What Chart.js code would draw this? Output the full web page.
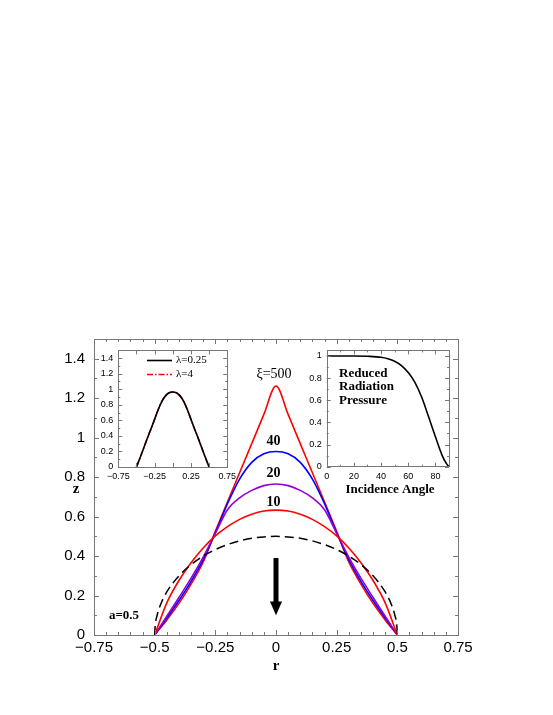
<!DOCTYPE html>
<html>
<head>
<meta charset="utf-8">
<script src="https://cdn.jsdelivr.net/npm/chart.js@4"></script>
<style>
  body { margin: 0; background: #fff; }
  #wrap { position: relative; width: 553px; height: 715px; }
  canvas { position: absolute; }
</style>
</head>
<body>
<div id="wrap">
  <canvas id="mainChart" width="553" height="715" style="left:0;top:0"></canvas>
  <canvas id="lambdaChart" width="150" height="145" style="left:90px;top:340px"></canvas>
  <canvas id="angleChart" width="155" height="160" style="left:300px;top:340px"></canvas>
</div>
<script>
// Main plot: surface profiles z(r) for several xi, plus the initial hemisphere
const rGrid = [-0.5, -0.45, -0.4, -0.35, -0.3, -0.25, -0.2, -0.15, -0.1, -0.05, 0,
  0.05, 0.1, 0.15, 0.2, 0.25, 0.3, 0.35, 0.4, 0.45, 0.5];
const zXi10 = [0, 0.163, 0.276, 0.366, 0.441, 0.502, 0.549, 0.586, 0.612, 0.628, 0.633,
  0.628, 0.612, 0.586, 0.549, 0.502, 0.441, 0.366, 0.276, 0.163, 0];
const zXi20 = [0, 0.095, 0.19, 0.288, 0.395, 0.515, 0.635, 0.695, 0.733, 0.757, 0.765,
  0.757, 0.733, 0.695, 0.635, 0.515, 0.395, 0.288, 0.19, 0.095, 0];
const zXi40 = [0, 0.086, 0.175, 0.272, 0.382, 0.518, 0.665, 0.79, 0.875, 0.918, 0.93,
  0.918, 0.875, 0.79, 0.665, 0.518, 0.382, 0.272, 0.175, 0.086, 0];
const zXi500 = [0, 0.076, 0.16, 0.258, 0.37, 0.525, 0.674, 0.822, 0.97, 1.118, 1.262,
  1.118, 0.97, 0.822, 0.674, 0.525, 0.37, 0.258, 0.16, 0.076, 0];

const rCircle = [-0.5, -0.498, -0.49, -0.475, -0.45, -0.4, -0.35, -0.3, -0.25, -0.2, -0.15, -0.1, -0.05, 0,
  0.05, 0.1, 0.15, 0.2, 0.25, 0.3, 0.35, 0.4, 0.45, 0.475, 0.49, 0.498, 0.5];
const zCircle = [0, 0.045, 0.099, 0.156, 0.218, 0.3, 0.357, 0.4, 0.433, 0.458, 0.477, 0.49, 0.497, 0.5,
  0.497, 0.49, 0.477, 0.458, 0.433, 0.4, 0.357, 0.3, 0.218, 0.156, 0.099, 0.045, 0];

const mainXTicks = [-0.75, -0.5, -0.25, 0, 0.25, 0.5, 0.75];
const mainXLabels = ["\u22120.75", "\u22120.5", "\u22120.25", "0", "0.25", "0.5", "0.75"];
const mainYTicks = [0, 0.2, 0.4, 0.6, 0.8, 1, 1.2, 1.4];
const mainYLabels = ["0", "0.2", "0.4", "0.6", "0.8", "1", "1.2", "1.4"];

// Left inset: profiles for two lambda values
const rInset = [-0.5, -0.45, -0.4, -0.35, -0.3, -0.25, -0.2, -0.15, -0.1, -0.05, 0,
  0.05, 0.1, 0.15, 0.2, 0.25, 0.3, 0.35, 0.4, 0.45, 0.5];
const zLambda025 = [0, 0.12, 0.245, 0.37, 0.49, 0.615, 0.74, 0.845, 0.915, 0.955, 0.965,
  0.955, 0.915, 0.845, 0.74, 0.615, 0.49, 0.37, 0.245, 0.12, 0];
const zLambda4 = [0, 0.12, 0.245, 0.37, 0.49, 0.615, 0.74, 0.845, 0.915, 0.955, 0.965,
  0.955, 0.915, 0.845, 0.74, 0.615, 0.49, 0.37, 0.245, 0.12, 0];
const insetXTicks = [-0.75, -0.25, 0.25, 0.75];
const insetXLabels = ["\u22120.75", "\u22120.25", "0.25", "0.75"];
const insetYTicks = [0, 0.2, 0.4, 0.6, 0.8, 1, 1.2, 1.4];
const insetYLabels = ["0", "0.2", "0.4", "0.6", "0.8", "1", "1.2", "1.4"];

// Right inset: reduced radiation pressure vs incidence angle
const incAngle = [0, 10, 20, 30, 40, 45, 50, 55, 60, 65, 70, 75, 80, 85, 88, 90];
const pressure = [1, 1, 1, 0.997, 0.988, 0.975, 0.952, 0.912, 0.85, 0.76, 0.625, 0.45, 0.27, 0.1, 0.03, 0];
const angleXTicks = [0, 20, 40, 60, 80];
const angleXLabels = ["0", "20", "40", "60", "80"];
const angleYTicks = [0, 0.2, 0.4, 0.6, 0.8, 1];
const angleYLabels = ["0", "0.2", "0.4", "0.6", "0.8", "1"];

const SANS = "'Liberation Sans', Arial, sans-serif";
const SERIF = "'Liberation Serif', 'Times New Roman', serif";

function pts(xs, ys) {
  return xs.map((x, i) => ({ x: x, y: ys[i] }));
}

// Box frame with inward tick marks on all four sides
const frameTicks = {
  id: "frameTicks",
  afterDatasetsDraw(chart, args, o) {
    const { ctx, chartArea: a } = chart;
    const sx = chart.scales.x, sy = chart.scales.y;
    ctx.save();
    ctx.strokeStyle = o.color;
    ctx.lineWidth = 1;
    ctx.strokeRect(Math.round(a.left) + 0.5, Math.round(a.top) + 0.5,
      Math.round(a.width), Math.round(a.height));
    ctx.beginPath();
    const isMajor = (v, m) => Math.abs(v / m - Math.round(v / m)) < 1e-6;
    const nx = Math.round((sx.max - sx.min) / o.xMinor);
    for (let i = 0; i <= nx; i++) {
      const v = sx.min + i * o.xMinor;
      const len = isMajor(v, o.xMajor) ? o.major : o.minor;
      const px = Math.round(sx.getPixelForValue(v)) + 0.5;
      ctx.moveTo(px, a.bottom); ctx.lineTo(px, a.bottom - len);
      ctx.moveTo(px, a.top); ctx.lineTo(px, a.top + len);
    }
    const ny = Math.floor((sy.max - sy.min) / o.yMinor + 1e-6);
    for (let i = 0; i <= ny; i++) {
      const v = sy.min + i * o.yMinor;
      const len = isMajor(v, o.yMajor) ? o.major : o.minor;
      const py = Math.round(sy.getPixelForValue(v)) + 0.5;
      ctx.moveTo(a.left, py); ctx.lineTo(a.left + len, py);
      ctx.moveTo(a.right, py); ctx.lineTo(a.right - len, py);
    }
    ctx.stroke();
    ctx.restore();
  }
};

function axis(min, max, ticks, labels, size, pad, fit) {
  return {
    type: "linear", min: min, max: max,
    grid: { display: false, drawTicks: false }, border: { display: false },
    afterBuildTicks: (s) => { s.ticks = ticks.map((v) => ({ value: v })); },
    afterFit: fit,
    ticks: {
      autoSkip: false, maxRotation: 0, padding: pad, color: "#000",
      font: { family: SANS, size: size },
      callback: (v, i) => labels[i]
    }
  };
}

// Labels, axis titles and the arrow on the main plot
const mainNotes = {
  id: "mainNotes",
  afterDraw(chart) {
    const { ctx } = chart;
    const sx = chart.scales.x, sy = chart.scales.y;
    ctx.save();
    ctx.fillStyle = "#000";
    ctx.textAlign = "center";
    ctx.textBaseline = "middle";
    ctx.font = "14px " + SERIF;
    ctx.fillText("\u03be=500", 274, 374);
    ctx.font = "bold 14px " + SERIF;
    ctx.fillText("40", 273.5, 441);
    ctx.fillText("20", 273.5, 473.5);
    ctx.fillText("10", 273.5, 502.5);
    ctx.font = "bold 13px " + SERIF;
    ctx.fillText("a=0.5", 124, 616);
    ctx.font = "bold 15px " + SERIF;
    ctx.fillText("r", 276, 666);
    ctx.fillText("z", 76, 489);

    // downward arrow at r = 0
    const cx = sx.getPixelForValue(0);
    const yTop = sy.getPixelForValue(0.39);
    const yHead = sy.getPixelForValue(0.17);
    const yTip = sy.getPixelForValue(0.1);
    ctx.fillRect(cx - 2.5, yTop, 5, yHead - yTop + 1);
    ctx.beginPath();
    ctx.moveTo(cx - 6, yHead);
    ctx.lineTo(cx + 6, yHead);
    ctx.lineTo(cx, yTip);
    ctx.closePath();
    ctx.fill();
    ctx.restore();
  }
};

new Chart(document.getElementById("mainChart"), {
  type: "line",
  data: {
    datasets: [
      { data: pts(rCircle, zCircle), borderColor: "#000", borderDash: [9, 5], borderWidth: 1.5 },
      { data: pts(rGrid, zXi10), borderColor: "#ff0000" },
      { data: pts(rGrid, zXi20), borderColor: "#9400d3" },
      { data: pts(rGrid, zXi40), borderColor: "#0000ff" },
      { data: pts(rGrid, zXi500), borderColor: "#ff0000" }
    ]
  },
  options: {
    responsive: false, animation: false, devicePixelRatio: 1,
    layout: { padding: { left: 0, top: 339, right: 95, bottom: 0 } },
    elements: {
      point: { radius: 0 },
      line: { borderWidth: 1.6, cubicInterpolationMode: "monotone", fill: false }
    },
    plugins: {
      legend: { display: false }, tooltip: { enabled: false },
      frameTicks: { color: "#777", xMinor: 0.05, xMajor: 0.25, yMinor: 0.1, yMajor: 0.2, major: 5, minor: 3 }
    },
    scales: {
      x: axis(-0.75, 0.75, mainXTicks, mainXLabels, 15, 4, (s) => { s.height = 80; }),
      y: axis(0, 1.5, mainYTicks, mainYLabels, 15, 9, (s) => { s.width = 94; })
    }
  },
  plugins: [frameTicks, mainNotes]
});

// Legend of the left inset
const lambdaNotes = {
  id: "lambdaNotes",
  afterDraw(chart) {
    const { ctx } = chart;
    ctx.save();
    ctx.lineWidth = 1.6;
    ctx.strokeStyle = "#000";
    ctx.beginPath(); ctx.moveTo(57, 20.5); ctx.lineTo(82, 20.5); ctx.stroke();
    ctx.strokeStyle = "#ff0000";
    ctx.setLineDash([6, 2, 1.5, 2]);
    ctx.beginPath(); ctx.moveTo(57, 34.5); ctx.lineTo(82, 34.5); ctx.stroke();
    ctx.setLineDash([]);
    ctx.fillStyle = "#000";
    ctx.font = "11px " + SERIF;
    ctx.textBaseline = "middle";
    ctx.fillText("\u03bb=0.25", 86, 20.5);
    ctx.fillText("\u03bb=4", 86, 34.5);
    ctx.restore();
  }
};

new Chart(document.getElementById("lambdaChart"), {
  type: "line",
  data: {
    datasets: [
      { data: pts(rInset, zLambda025), borderColor: "#000" },
      { data: pts(rInset, zLambda4), borderColor: "#ff0000", borderDash: [6, 2, 1.5, 2] }
    ]
  },
  options: {
    responsive: false, animation: false, devicePixelRatio: 1,
    layout: { padding: { left: 0, top: 9, right: 6.7, bottom: 0 } },
    elements: {
      point: { radius: 0 },
      line: { borderWidth: 1.6, cubicInterpolationMode: "monotone", fill: false }
    },
    plugins: {
      legend: { display: false }, tooltip: { enabled: false },
      frameTicks: { color: "#777", xMinor: 0.25, xMajor: 0.25, yMinor: 0.1, yMajor: 0.2, major: 4, minor: 2 }
    },
    scales: {
      x: axis(-0.75, 0.75, insetXTicks, insetXLabels, 9, 4, (s) => { s.height = 18; }),
      y: axis(0, 1.5, insetYTicks, insetYLabels, 9, 5, (s) => { s.width = 28.3; })
    }
  },
  plugins: [frameTicks, lambdaNotes]
});

// Text of the right inset
const angleNotes = {
  id: "angleNotes",
  afterDraw(chart) {
    const { ctx } = chart;
    ctx.save();
    ctx.fillStyle = "#000";
    ctx.font = "bold 13px " + SERIF;
    ctx.textBaseline = "middle";
    ctx.textAlign = "left";
    ctx.fillText("Reduced", 39, 34);
    ctx.fillText("Radiation", 39, 47);
    ctx.fillText("Pressure", 39, 61);
    ctx.textAlign = "center";
    ctx.fillText("Incidence Angle", 90, 150);
    ctx.restore();
  }
};

new Chart(document.getElementById("angleChart"), {
  type: "line",
  data: {
    datasets: [
      { data: pts(incAngle, pressure), borderColor: "#000" }
    ]
  },
  options: {
    responsive: false, animation: false, devicePixelRatio: 1,
    layout: { padding: { left: 0, top: 9, right: 6, bottom: 0 } },
    elements: {
      point: { radius: 0 },
      line: { borderWidth: 1.6, cubicInterpolationMode: "monotone", fill: false }
    },
    plugins: {
      legend: { display: false }, tooltip: { enabled: false },
      frameTicks: { color: "#777", xMinor: 10, xMajor: 20, yMinor: 0.1, yMajor: 0.2, major: 4, minor: 2 }
    },
    scales: {
      x: axis(0, 90, angleXTicks, angleXLabels, 9, 4, (s) => { s.height = 33.3; }),
      y: axis(0, 1.05, angleYTicks, angleYLabels, 9, 5, (s) => { s.width = 26.7; })
    }
  },
  plugins: [frameTicks, angleNotes]
});
</script>
</body>
</html>
